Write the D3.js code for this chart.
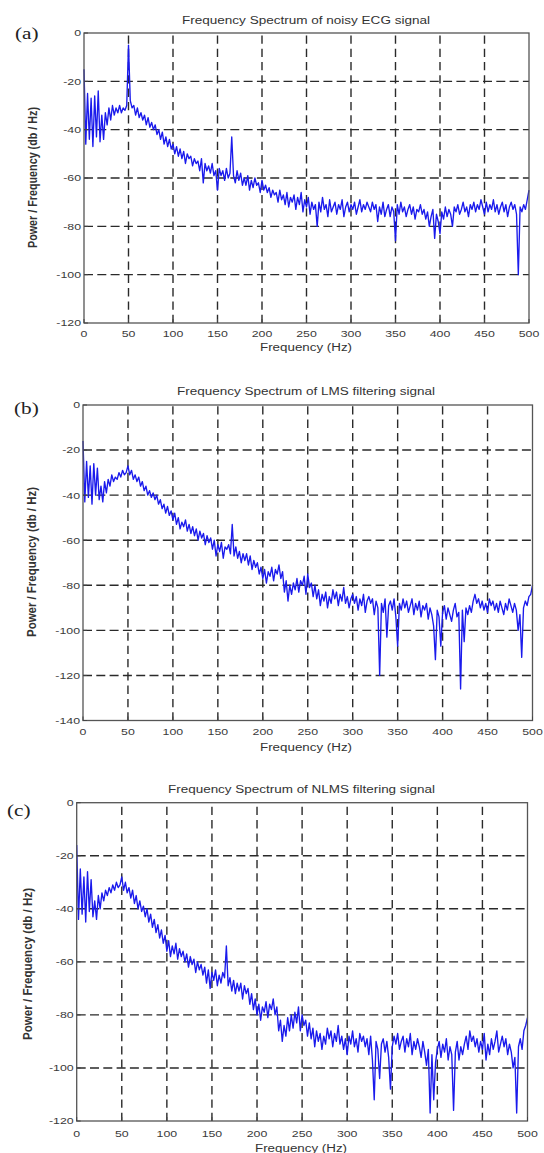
<!DOCTYPE html>
<html>
<head>
<meta charset="utf-8">
<script src="https://cdn.jsdelivr.net/npm/d3@7"></script>
<style>
  body { margin: 0; background: #fff; }
  svg { display: block; }
</style>
</head>
<body>
<svg id="fig" width="544" height="1153"></svg>
<script>
// Spectrum bins are spaced 2 Hz apart, from 0 Hz to 500 Hz.
const binStepHz = 2;

const xTicks = [0, 50, 100, 150, 200, 250, 300, 350, 400, 450, 500];
const yTicksA = [0, -20, -40, -60, -80, -100, -120];
const yTicksB = [0, -20, -40, -60, -80, -100, -120, -140];
const yTicksC = [0, -20, -40, -60, -80, -100, -120];

const titles = [
  "Frequency Spectrum of noisy ECG signal",
  "Frequency Spectrum of LMS filtering signal",
  "Frequency Spectrum of NLMS filtering signal"
];
const panelTags = ["(a)", "(b)", "(c)"];
const xLabel = "Frequency (Hz)";
const yLabel = "Power / Frequency (db / Hz)";

// Power spectral density (dB/Hz) of the noisy ECG record
const noisyEcgDb = [
  -15, -46, -25, -44, -27, -47, -26, -43, -24, -45,
  -34, -44, -33, -38, -31, -36, -30, -34, -31, -33,
  -30, -33, -31, -32, -30, -5, -28, -31, -30, -34,
  -31, -35, -33, -36, -34, -38, -35, -39, -37, -40,
  -38, -42, -40, -44, -41, -46, -43, -47, -44, -48,
  -46, -50, -47, -51, -48, -52, -49, -54, -50, -52,
  -51, -55, -52, -54, -53, -57, -52, -62, -54, -57,
  -55, -58, -54, -59, -57, -65, -56, -59, -57, -61,
  -56, -60, -58, -43, -59, -62, -57, -61, -58, -63,
  -60, -63, -59, -65, -61, -64, -60, -63, -62, -66,
  -61, -65, -63, -66, -64, -68, -65, -67, -66, -70,
  -65, -69, -67, -71, -66, -72, -68, -70, -67, -73,
  -68, -71, -66, -74, -69, -72, -68, -75, -70, -73,
  -71, -80, -70, -74, -68, -73, -71, -76, -69, -74,
  -72, -70, -75, -71, -73, -69, -76, -72, -70, -74,
  -71, -73, -70, -75, -72, -69, -74, -71, -73, -70,
  -72, -74, -70, -73, -71, -78, -72, -75, -70, -76,
  -73, -71, -76, -72, -74, -86, -71, -75, -70, -74,
  -72, -76, -73, -71, -75, -72, -77, -73, -74, -71,
  -75, -73, -77, -74, -80, -76, -73, -85, -75, -78,
  -83, -74, -77, -72, -76, -73, -75, -80, -72, -74,
  -71, -75, -73, -70, -74, -72, -76, -71, -73, -70,
  -74, -71, -73, -69, -72, -75, -70, -74, -71, -73,
  -69, -74, -71, -75, -72, -70, -74, -71, -76, -72,
  -70, -73, -71, -75, -100, -72, -74, -71, -73, -69,
  -65
];

// Spectrum after LMS adaptive filtering
const lmsDb = [
  -16, -43, -25, -41, -27, -44, -26, -40, -28, -42,
  -36, -43, -34, -39, -33, -36, -31, -34, -32, -33,
  -30, -32, -29, -31, -30, -27, -31, -29, -33, -31,
  -34, -32, -36, -34, -38, -36, -40, -38, -41, -39,
  -42, -40, -44, -42, -46, -44, -48, -45, -49, -47,
  -51, -48, -53, -50, -55, -52, -54, -51, -56, -53,
  -57, -54, -58, -55, -60, -56, -59, -57, -62, -58,
  -61, -59, -64, -60, -67, -62, -65, -61, -68, -63,
  -64, -62, -66, -53, -67, -63, -68, -65, -70, -66,
  -69, -66, -71, -67, -73, -69, -72, -70, -75, -72,
  -77, -73, -79, -74, -76, -72, -78, -73, -75, -71,
  -77, -74, -83, -78, -87, -80, -84, -79, -82, -77,
  -83, -78, -80, -76, -84, -75, -81, -79, -85, -80,
  -86, -82, -89, -84, -87, -83, -90, -85, -88, -82,
  -86, -83, -89, -84, -87, -81, -88, -85, -90, -86,
  -84, -88, -85, -91, -86, -89, -84, -92, -87, -85,
  -88, -86, -93, -87, -90, -120, -88, -92, -86, -103,
  -89, -87, -91, -86, -94, -107, -88, -91, -86, -90,
  -87, -92, -89, -86, -93, -88, -91, -87, -94, -89,
  -91, -88, -95, -90, -93, -98, -113, -91, -94, -107,
  -92, -89, -95, -90, -93, -96, -91, -88, -94, -92,
  -126, -91, -105, -90, -93, -89, -92, -87, -84, -88,
  -86, -90, -87, -91, -88, -92, -86, -89, -87, -91,
  -88, -92, -87, -90, -93, -88, -91, -86, -89, -92,
  -88, -91, -100, -93, -112, -90, -87, -89, -85, -84,
  -80
];

// Spectrum after NLMS adaptive filtering
const nlmsDb = [
  -16, -44, -25, -42, -28, -45, -26, -41, -29, -43,
  -37, -44, -35, -40, -34, -37, -33, -35, -32, -34,
  -31, -33, -30, -32, -31, -28, -33, -30, -34, -32,
  -36, -33, -38, -35, -40, -37, -41, -39, -43, -40,
  -45, -42, -47, -44, -49, -46, -51, -48, -53, -50,
  -56, -52, -58, -54, -57, -53, -59, -55, -58, -56,
  -60, -57, -62, -58, -61, -59, -64, -60, -63, -61,
  -65, -62, -68, -63, -70, -64, -67, -63, -69, -65,
  -68, -64, -66, -54, -69, -66, -71, -67, -72, -68,
  -71, -68, -74, -69, -72, -70, -76, -72, -78, -74,
  -80, -76, -82, -77, -79, -75, -81, -76, -78, -74,
  -80, -77, -86, -82, -90, -84, -88, -81, -86, -80,
  -85, -79, -83, -77, -86, -80, -84, -82, -88, -83,
  -89, -85, -92, -86, -90, -87, -93, -88, -91, -85,
  -89, -86, -92, -87, -90, -84, -91, -88, -93, -89,
  -95, -88, -91, -86, -92, -89, -94, -87, -90, -88,
  -92, -89, -95, -88, -97, -112, -90, -93, -104, -91,
  -89, -94, -90, -96, -108, -92, -88, -91, -87, -93,
  -90, -88, -94, -89, -92, -87, -95, -90, -93, -89,
  -92, -96, -90, -94, -99, -93, -117, -95, -112, -98,
  -93, -90, -96, -91, -94, -89, -97, -92, -95, -116,
  -94, -90, -97, -92, -95, -91, -88, -93, -86, -90,
  -88, -92, -89, -94, -90, -93, -87, -97, -91, -95,
  -89, -93, -90, -86, -94, -91, -88, -92, -89, -95,
  -91, -94, -100, -96, -117, -92, -89, -93, -86, -84,
  -81
];

// Placement of each of the three stacked plots
const panels = [
  { data: noisyEcgDb, yTicks: yTicksA, title: titles[0], tag: panelTags[0],
    left: 84, right: 529, top: 33, bottom: 323,
    titleX: 182, titleY: 23.5, titleLen: 248,
    tickY: 337, xLabX: 260, xLabY: 351,
    yLabX: 37, yLabY: 177.5, yLabLen: 141,
    tagX: 15, tagY: 39 },
  { data: lmsDb, yTicks: yTicksB, title: titles[1], tag: panelTags[1],
    left: 83, right: 532.5, top: 405, bottom: 720.5,
    titleX: 177, titleY: 395, titleLen: 258,
    tickY: 735, xLabX: 260, xLabY: 750.5,
    yLabX: 35.5, yLabY: 562, yLabLen: 150,
    tagX: 14, tagY: 414 },
  { data: nlmsDb, yTicks: yTicksC, title: titles[2], tag: panelTags[2],
    left: 76.7, right: 527.5, top: 802.7, bottom: 1121,
    titleX: 168, titleY: 793, titleLen: 267,
    tickY: 1136.5, xLabX: 255, xLabY: 1152,
    yLabX: 32, yLabY: 964, yLabLen: 152,
    tagX: 7, tagY: 816 }
];

const sx = 1.3;          // horizontal stretch applied to all lettering
const sans = "'Liberation Sans', Arial, sans-serif";
const serif = "'Liberation Serif', 'Times New Roman', serif";

const svg = d3.select("#fig");

panels.forEach(p => {
  const g = svg.append("g");
  const yMin = d3.min(p.yTicks), yMax = d3.max(p.yTicks);

  const x = d3.scaleLinear().domain([xTicks[0], xTicks[xTicks.length - 1]]).range([p.left, p.right]);
  const y = d3.scaleLinear().domain([yMin, yMax]).range([p.bottom, p.top]);

  // dashed grid
  g.append("g").selectAll("line.h")
    .data(p.yTicks.filter(v => v !== yMin && v !== yMax))
    .join("line")
    .attr("x1", p.left).attr("x2", p.right)
    .attr("y1", d => y(d)).attr("y2", d => y(d))
    .attr("stroke", "#2a2a2a").attr("stroke-width", 1.4)
    .attr("stroke-dasharray", "9,4.3");

  g.append("g").selectAll("line.v")
    .data(xTicks.filter(v => v !== xTicks[0] && v !== xTicks[xTicks.length - 1]))
    .join("line")
    .attr("x1", d => x(d)).attr("x2", d => x(d))
    .attr("y1", p.bottom).attr("y2", p.top)
    .attr("stroke", "#2a2a2a").attr("stroke-width", 1.4)
    .attr("stroke-dasharray", "8.3,5");

  // spectrum trace
  const line = d3.line()
    .x((d, i) => x(i * binStepHz))
    .y(d => y(d));

  g.append("path")
    .datum(p.data)
    .attr("d", line)
    .attr("fill", "none")
    .attr("stroke", "#1a1aec")
    .attr("stroke-width", 1.35)
    .attr("stroke-linejoin", "round");

  // axes frame
  g.append("rect")
    .attr("x", p.left).attr("y", p.top)
    .attr("width", p.right - p.left).attr("height", p.bottom - p.top)
    .attr("fill", "none").attr("stroke", "#555").attr("stroke-width", 1.3);

  // inward tick marks on the bottom and left edges
  g.append("g").selectAll("line")
    .data(xTicks).join("line")
    .attr("x1", d => x(d)).attr("x2", d => x(d))
    .attr("y1", p.bottom).attr("y2", p.bottom - 4)
    .attr("stroke", "#444");
  g.append("g").selectAll("line")
    .data(p.yTicks).join("line")
    .attr("x1", p.left).attr("x2", p.left + 4)
    .attr("y1", d => y(d)).attr("y2", d => y(d))
    .attr("stroke", "#444");

  // x tick labels
  g.append("g").selectAll("text")
    .data(xTicks).join("text")
    .attr("transform", d => `translate(${x(d)},${p.tickY}) scale(${sx},1)`)
    .attr("text-anchor", "middle")
    .attr("font-family", sans).attr("font-size", 9.5)
    .attr("fill", "#3a3a3a")
    .text(d => d);

  // y tick labels
  g.append("g").selectAll("text")
    .data(p.yTicks).join("text")
    .attr("transform", d => `translate(${p.left - 3},${y(d) + 3.4}) scale(${sx},1)`)
    .attr("text-anchor", "end")
    .attr("font-family", sans).attr("font-size", 9.5)
    .attr("fill", "#3a3a3a")
    .text(d => d);

  // title
  g.append("text")
    .attr("x", p.titleX).attr("y", p.titleY)
    .attr("textLength", p.titleLen).attr("lengthAdjust", "spacingAndGlyphs")
    .attr("font-family", sans).attr("font-size", 10)
    .attr("fill", "#333")
    .text(p.title);

  // x axis label
  g.append("text")
    .attr("x", p.xLabX).attr("y", p.xLabY)
    .attr("textLength", 92).attr("lengthAdjust", "spacingAndGlyphs")
    .attr("font-family", sans).attr("font-size", 10)
    .attr("fill", "#333")
    .text(xLabel);

  // y axis label
  g.append("text")
    .attr("transform", `translate(${p.yLabX},${p.yLabY}) scale(${sx},1) rotate(-90)`)
    .attr("text-anchor", "middle")
    .attr("textLength", p.yLabLen).attr("lengthAdjust", "spacingAndGlyphs")
    .attr("font-family", sans).attr("font-size", 9.5)
    .attr("font-weight", "bold")
    .attr("fill", "#333")
    .text(yLabel);

  // panel tag
  g.append("text")
    .attr("transform", `translate(${p.tagX},${p.tagY}) scale(1.25,1)`)
    .attr("font-family", serif).attr("font-size", 17)
    .attr("fill", "#222")
    .text(p.tag);
});
</script>
</body>
</html>
